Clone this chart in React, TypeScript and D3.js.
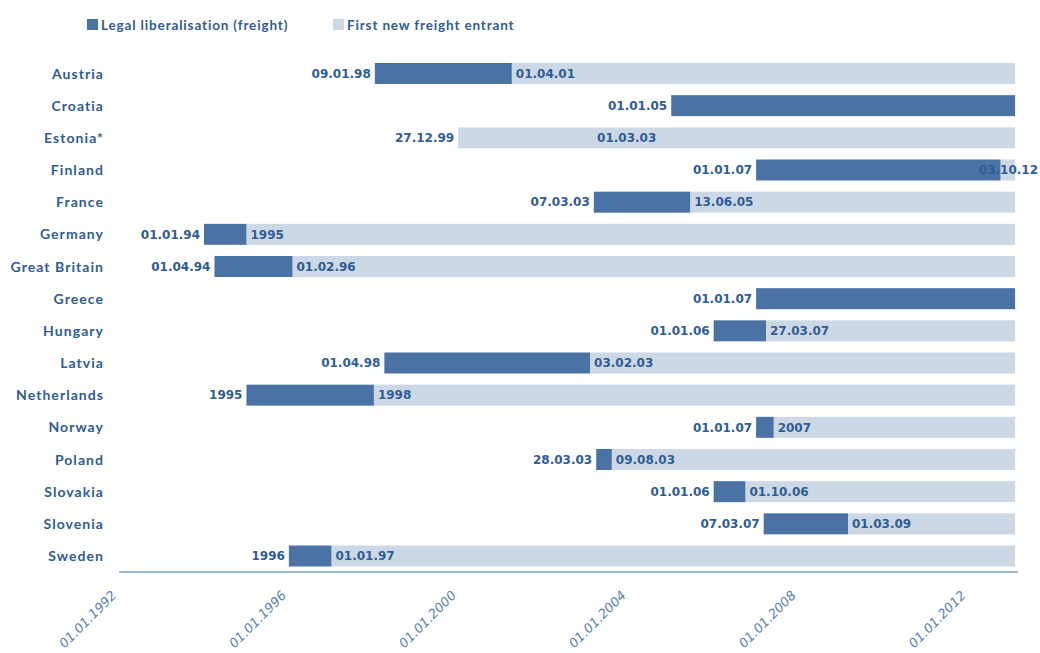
import React from "react";
import * as d3 from "d3";

const countries = ["Austria", "Croatia", "Estonia*", "Finland", "France", "Germany", "Great Britain", "Greece", "Hungary", "Latvia", "Netherlands", "Norway", "Poland", "Slovakia", "Slovenia", "Sweden"];
// Legal liberalisation (freight)
const legalDates = ["1998-01-09", "2005-01-01", "2003-03-01", "2007-01-01", "2003-03-07", "1994-01-01", "1994-04-01", "2007-01-01", "2006-01-01", "1998-04-01", "1995-01-01", "2007-01-01", "2003-03-28", "2006-01-01", "2007-03-07", "1996-01-01"];
const legalLabels = ["09.01.98", "01.01.05", "01.03.03", "01.01.07", "07.03.03", "01.01.94", "01.04.94", "01.01.07", "01.01.06", "01.04.98", "1995", "01.01.07", "28.03.03", "01.01.06", "07.03.07", "1996"];
// First new freight entrant (null = none)
const entrantDates = ["2001-04-01", null, "1999-12-27", "2012-10-03", "2005-06-13", "1995-01-01", "1996-02-01", null, "2007-03-27", "2003-02-03", "1998-01-01", "2007-06-01", "2003-08-09", "2006-10-01", "2009-03-01", "1997-01-01"];
const entrantLabels = ["01.04.01", "", "27.12.99", "03.10.12", "13.06.05", "1995", "01.02.96", "", "27.03.07", "03.02.03", "1998", "2007", "09.08.03", "01.10.06", "01.03.09", "01.01.97"];
const tickDates = ["1992-01-01", "1996-01-01", "2000-01-01", "2004-01-01", "2008-01-01", "2012-01-01"];
const tickLabels = ["01.01.1992", "01.01.1996", "01.01.2000", "01.01.2004", "01.01.2008", "01.01.2012"];
const domainDates = ["1992-01-01", "2013-01-01"];
const endDate = "2013-02-05";

const DARK = "#4a72a4";
const LIGHT = "#cdd8e6";
const TEXT = "#2e5c94";
const AXIS = "#7f9fc8";

const p = (s: string) => new Date(s + "T00:00:00");

export default function App() {
  const W = 1040, H = 653;
  const x = d3.scaleTime().domain(domainDates.map(p)).range([119, 1011]);
  const y = d3.scalePoint<string>().domain(countries).range([73.5, 556]);
  const bh = 21;
  const xEnd = x(p(endDate));
  const labelFont = "'DejaVu Sans', sans-serif";

  return (
    <svg width={W} height={H} style={{ position: "absolute", left: 0, top: 0, background: "#fff" }}>
      {/* legend */}
      <rect x={87} y={19} width={11} height={11} fill={DARK} />
      <text x={101} y={29.5} fontFamily="Lato, sans-serif" fontWeight={700} fontSize={13.5} letterSpacing={0.85} fill={TEXT}>Legal liberalisation (freight)</text>
      <rect x={333} y={19} width={11} height={11} fill={LIGHT} />
      <text x={347} y={29.5} fontFamily="Lato, sans-serif" fontWeight={700} fontSize={13.5} letterSpacing={0.85} fill={TEXT}>First new freight entrant</text>

      {countries.map((c, i) => {
        const cy = y(c)!;
        const lx = x(p(legalDates[i]));
        const ed = entrantDates[i];
        const ex = ed ? x(p(ed)) : null;
        const els: React.ReactNode[] = [];
        if (ex !== null) {
          els.push(<rect key="l" x={ex} y={cy - bh / 2} width={xEnd - ex} height={bh} fill={LIGHT} />);
          if (ex > lx) els.push(<rect key="d" x={lx} y={cy - bh / 2} width={ex - lx} height={bh} fill={DARK} />);
        } else {
          els.push(<rect key="d" x={lx} y={cy - bh / 2} width={xEnd - lx} height={bh} fill={DARK} />);
        }
        const items: { x: number; t: string }[] = [{ x: lx, t: legalLabels[i] }];
        if (ex !== null) items.push({ x: ex, t: entrantLabels[i] });
        items.sort((a, b) => a.x - b.x);
        els.push(
          <text key="t0" x={items[0].x - 4} y={cy} dy="0.36em" textAnchor="end" fontFamily={labelFont} fontWeight={700} fontSize={12} fill={TEXT}>{items[0].t}</text>
        );
        if (items.length > 1) {
          const tx = items[1].x + 4;
          const approxW = items[1].t.length * 7.4;
          const clamp = tx + approxW > W - 2;
          els.push(
            <text key="t1" x={clamp ? W - 2 : tx} y={cy} dy="0.36em" textAnchor={clamp ? "end" : "start"} fontFamily={labelFont} fontWeight={700} fontSize={12} fill={TEXT}>{items[1].t}</text>
          );
        }
        return (
          <g key={c}>
            {els}
            <text x={104} y={cy} dy="0.36em" textAnchor="end" fontFamily="Lato, sans-serif" fontWeight={700} fontSize={14} letterSpacing={1.05} fill={TEXT}>{c}</text>
          </g>
        );
      })}

      {/* axis */}
      <line x1={119} x2={1018} y1={572} y2={572} stroke={AXIS} strokeWidth={1.5} />
      {tickDates.map((d, i) => {
        const tx = x(p(d));
        return (
          <text key={d} transform={`translate(${tx - 5},${593}) rotate(-45)`} textAnchor="end" dy="0.35em" fontFamily="'DejaVu Sans', sans-serif" fontStyle="italic" fontSize={13} fill="#5a80b6">{tickLabels[i]}</text>
        );
      })}
    </svg>
  );
}
